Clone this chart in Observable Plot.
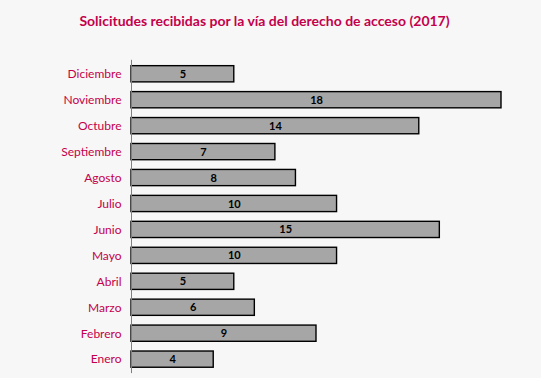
<!DOCTYPE html>
<html>
<head>
<meta charset="utf-8">
<script src="https://cdn.jsdelivr.net/npm/d3@7"></script>
<script src="https://cdn.jsdelivr.net/npm/@observablehq/plot@0.6"></script>
<style>
  html, body { margin: 0; padding: 0; background: #f7f7f7; }
  #wrap { position: relative; width: 541px; height: 378px; background: #f7f7f7; }
  #title { position: absolute; left: 0; top: 1px; height: 40px; line-height: 40px; text-align: center; font-family: Lato, sans-serif; font-weight: bold; font-size: 14px; color: #c4004b; padding-right: 12px; box-sizing: border-box; width: 541px; }
  #chart svg { display: block; }
</style>
</head>
<body>
<div id="wrap">
  <div id="chart"></div>
  <div id="title">Solicitudes recibidas por la vía del derecho de acceso (2017)</div>
</div>
<script>
const months = ["Enero", "Febrero", "Marzo", "Abril", "Mayo", "Junio", "Julio", "Agosto", "Septiembre", "Octubre", "Noviembre", "Diciembre"];
const values = [4, 9, 6, 5, 10, 15, 10, 8, 7, 14, 18, 5];

const data = months.map((m, i) => ({month: m, value: values[i]}));
const order = months.slice().reverse();

const chart = Plot.plot({
  width: 541,
  height: 378,
  marginTop: 60.8,
  marginBottom: 5.9,
  marginLeft: 131,
  marginRight: 40,
  style: {background: "#f7f7f7", fontFamily: "Lato, sans-serif"},
  x: {domain: [0, 18], axis: null},
  y: {domain: order, paddingInner: 0.375, paddingOuter: 0.1875, round: false, label: null},
  marks: [
    Plot.axisY({tickSize: 0, tickPadding: 10, fontSize: 12, color: "#c4004b", label: null}),
    Plot.barX(data, {x: "value", y: "month", fill: "#a6a6a6", stroke: "#000", strokeWidth: 1.4}),
    Plot.text(data, {x: d => d.value / 2, y: "month", text: d => String(d.value), fontWeight: "bold", fontSize: 11, fill: "#000"}),
    Plot.ruleX([0], {stroke: "#808080", strokeWidth: 1, insetTop: -1, insetBottom: -1})
  ]
});
document.getElementById("chart").appendChild(chart);
</script>
</body>
</html>
